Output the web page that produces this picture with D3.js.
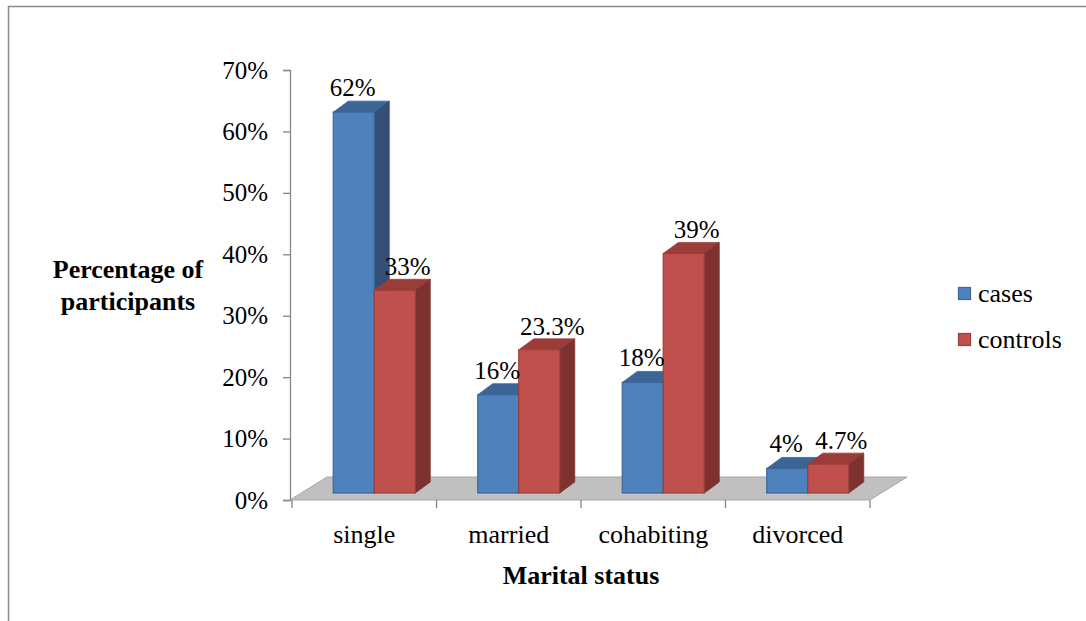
<!DOCTYPE html>
<html><head><meta charset="utf-8">
<script src="https://cdn.jsdelivr.net/npm/d3@7"></script>
<style>body{margin:0;background:#fff}svg{display:block}text{font-family:"Liberation Serif","Times New Roman","DejaVu Serif",serif;fill:#000}</style>
</head><body><svg id="c" width="1086" height="621"></svg>
<script>
const categories = ["single","married","cohabiting","divorced"];
const seriesNames = ["cases","controls"];
const cases = [62,16,18,4];
const controls = [33,23.3,39,4.7];
const labelsCases = ["62%","16%","18%","4%"];
const labelsControls = ["33%","23.3%","39%","4.7%"];
const yTicks = [0,10,20,30,40,50,60,70];

const svg = d3.select("#c");
// outer frame
svg.append("path").attr("d","M8.5,621 V6.5 H1086").attr("fill","none").attr("stroke","#8c8c8c").attr("stroke-width",1.5);

const y = d3.scaleLinear().domain([0,70]).range([500,70]);
const x = d3.scaleBand().domain(categories).range([292,870]);
const depth = {dx:15, dy:-11};
const floorDepth = {dx:37, dy:-23};
const barW = 41, barShift = 10, lift = 7;

// floor
const fy = y(0);
svg.append("polygon")
  .attr("points",[[290,fy],[870,fy],[870+floorDepth.dx,fy+floorDepth.dy],[290+floorDepth.dx,fy+floorDepth.dy]].map(p=>p.join(",")).join(" "))
  .attr("fill","#c0c0c0").attr("stroke","#a6a6a6").attr("stroke-width",1);

// y axis
const yAxis = d3.axisLeft(y).tickValues(yTicks).tickFormat(d=>d+"%").tickSize(7).tickPadding(15);
const ga = svg.append("g").attr("transform","translate(290,0)").call(yAxis);
ga.attr("font-family",null);
ga.select(".domain").attr("stroke","#868686").attr("stroke-width",1.3);
ga.selectAll(".tick line").attr("stroke","#868686").attr("stroke-width",1.3);
ga.selectAll(".tick text").attr("font-size",25).attr("fill","#000");

// x axis ticks (category boundaries)
const xAxis = d3.axisBottom(x).tickSize(0).tickPadding(0);
const gx = svg.append("g").attr("transform",`translate(0,${fy})`).call(xAxis);
gx.attr("font-family",null);
gx.select(".domain").remove();
gx.selectAll(".tick text").attr("y",43).attr("dy",0).attr("font-size",26).attr("fill","#000");
const bounds = categories.map(c=>x(c)).concat([x(categories[categories.length-1])+x.bandwidth()]);
svg.selectAll(".xt").data(bounds).enter().append("line")
  .attr("x1",d=>d).attr("x2",d=>d).attr("y1",fy).attr("y2",fy+8)
  .attr("stroke","#868686").attr("stroke-width",1.3);

const colors = {
  cases:{front:"#4f81bd", top:"#3a6595", side:"#344f76", stroke:"#3b679a"},
  controls:{front:"#c0504d", top:"#9b3c39", side:"#7e3230", stroke:"#9c3f3c"}
};

function bar(g, x0, v, c){
  const yt = y(v)-lift, yb = y(0)-lift;
  const {dx,dy} = depth;
  g.append("polygon").attr("points",[[x0,yt],[x0+barW,yt],[x0+barW+dx,yt+dy],[x0+dx,yt+dy]].map(p=>p.join(",")).join(" "))
    .attr("fill",c.top).attr("stroke",c.stroke).attr("stroke-width",0.8);
  g.append("polygon").attr("points",[[x0+barW,yt],[x0+barW+dx,yt+dy],[x0+barW+dx,yb+dy],[x0+barW,yb]].map(p=>p.join(",")).join(" "))
    .attr("fill",c.side).attr("stroke",c.side).attr("stroke-width",0.8);
  g.append("rect").attr("x",x0).attr("y",yt).attr("width",barW).attr("height",yb-yt)
    .attr("fill",c.front).attr("stroke",c.stroke).attr("stroke-width",1.2);
}

const gb = svg.append("g");
categories.forEach((cat,i)=>{
  const cx = x(cat)+x.bandwidth()/2+barShift;
  bar(gb, cx-barW, cases[i], colors.cases);
  bar(gb, cx, controls[i], colors.controls);
});

// value labels
const gl = svg.append("g").attr("font-size",25);
categories.forEach((cat,i)=>{
  const cx = x(cat)+x.bandwidth()/2+barShift;
  gl.append("text").attr("x",cx-barW/2-1).attr("y",y(cases[i])-lift+depth.dy-5).attr("text-anchor","middle").text(labelsCases[i]);
  gl.append("text").attr("x",cx+barW/2+13).attr("y",y(controls[i])-lift+depth.dy-4).attr("text-anchor","middle").text(labelsControls[i]);
});

// axis titles
const yt = svg.append("text").attr("x",128).attr("text-anchor","middle").attr("font-size",26).attr("font-weight","bold");
yt.append("tspan").attr("x",128).attr("y",278).text("Percentage of");
yt.append("tspan").attr("x",128).attr("y",310).text("participants");
svg.append("text").attr("x",581).attr("y",584).attr("text-anchor","middle").attr("font-size",26).attr("font-weight","bold").text("Marital status");

// legend
const lg = svg.append("g");
seriesNames.forEach((s,i)=>{
  const yy = 287 + i*46;
  lg.append("rect").attr("x",958.5).attr("y",yy+0.5).attr("width",12).attr("height",12)
    .attr("fill",colors[s].front).attr("stroke",colors[s].stroke).attr("stroke-width",1.2);
  lg.append("text").attr("x",978).attr("y",yy+15).attr("font-size",26).text(s);
});
</script></body></html>
